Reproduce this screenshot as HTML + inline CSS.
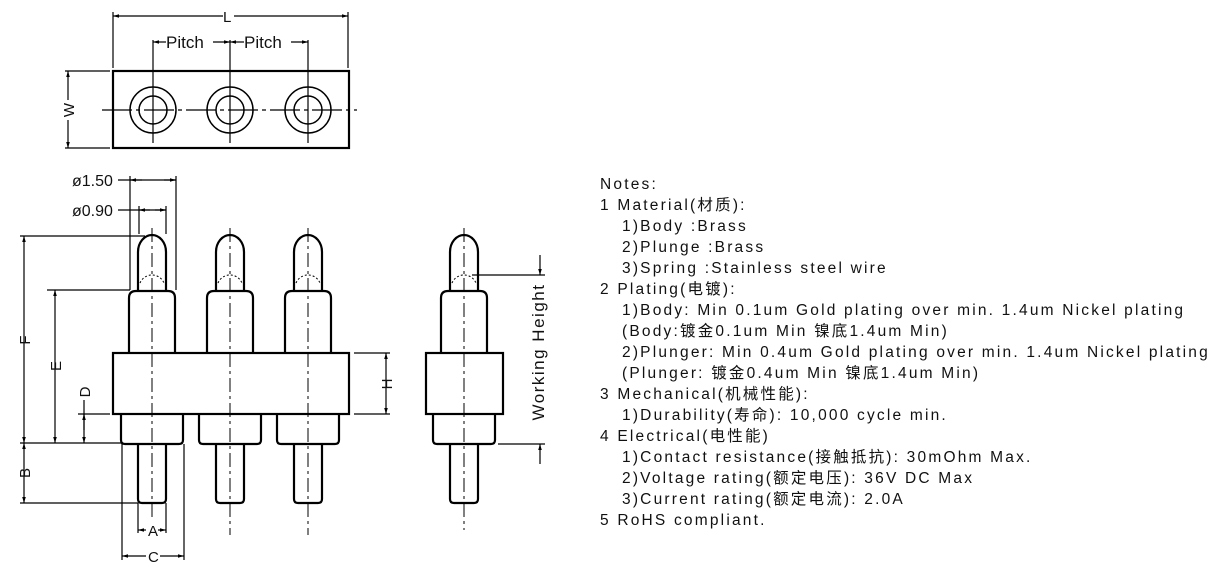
<!DOCTYPE html>
<html><head><meta charset="utf-8"><style>
body{margin:0;background:#fff;}
svg{display:block}
.t{font-family:"Liberation Sans","Noto Sans CJK SC",sans-serif;font-size:15.5px;fill:#111;letter-spacing:2.2px}
.d{font-family:"Liberation Sans",sans-serif;font-size:15px;fill:#111}
</style></head><body>
<svg width="1221" height="579" viewBox="0 0 1221 579" xmlns="http://www.w3.org/2000/svg">
<defs>
<marker id="a" viewBox="0 0 10 10" refX="10" refY="5" markerWidth="7" markerHeight="5" orient="auto-start-reverse"><path d="M0,2L10,5L0,8z" fill="#000"/></marker>
<g id="pin" fill="#fff" stroke="#000" stroke-width="2.2">
<path d="M-14,292 V252 A14,17 0 0 1 14,252 V292"/>
<path d="M-23,353 V298 Q-23,291 -16,291 H16 Q23,291 23,298 V353"/>
<path d="M-14,444 V499 Q-14,503 -10,503 H10 Q14,503 14,499 V444"/>
<path d="M-31,414 V440 Q-31,444 -27,444 H27 Q31,444 31,440 V414"/>
</g>
</defs>
<g stroke="#000" fill="none" stroke-width="1.2">
<rect x="113" y="71" width="236" height="77" stroke-width="2.2"/>
<line x1="102" y1="110" x2="357" y2="110" stroke-dasharray="30,4,4,4"/>
<g stroke-width="1.5">
<circle cx="153" cy="110" r="23"/><circle cx="153" cy="110" r="14"/>
<circle cx="230" cy="110" r="23"/><circle cx="230" cy="110" r="14"/>
<circle cx="308" cy="110" r="23"/><circle cx="308" cy="110" r="14"/>
</g>
<line x1="153" y1="40" x2="153" y2="143"/><line x1="230" y1="40" x2="230" y2="143"/><line x1="308" y1="40" x2="308" y2="143"/>
<line x1="113" y1="12" x2="113" y2="68"/><line x1="348" y1="12" x2="348" y2="68"/>
<line x1="113" y1="16" x2="223" y2="16" marker-start="url(#a)"/><line x1="234" y1="16" x2="348" y2="16" marker-end="url(#a)"/>
<line x1="153" y1="42" x2="166" y2="42" marker-start="url(#a)"/><line x1="213" y1="42" x2="230" y2="42" marker-end="url(#a)"/>
<line x1="230" y1="42" x2="244" y2="42" marker-start="url(#a)"/><line x1="291" y1="42" x2="308" y2="42" marker-end="url(#a)"/>
<line x1="65" y1="71" x2="110" y2="71"/><line x1="65" y1="148" x2="110" y2="148"/>
<line x1="68" y1="71" x2="68" y2="100" marker-start="url(#a)"/><line x1="68" y1="120" x2="68" y2="148" marker-end="url(#a)"/>
</g>
<text class="d" x="223" y="22">L</text>
<text class="d" x="166" y="48" style="font-size:17px">Pitch</text>
<text class="d" x="244" y="48" style="font-size:17px">Pitch</text>
<text class="d" transform="translate(74,110) rotate(-90)" text-anchor="middle">W</text>

<use href="#pin" x="152"/><use href="#pin" x="230"/><use href="#pin" x="308"/>
<use href="#pin" x="464"/>
<rect x="113" y="353" width="236" height="61" fill="#fff" stroke="#000" stroke-width="2.2"/>
<rect x="426" y="353" width="77" height="61" fill="#fff" stroke="#000" stroke-width="2.2"/>
<g stroke="#000" fill="none" stroke-width="1">
<path d="M140,283 A13,13 0 0 1 164,283" stroke-dasharray="2,2"/>
<path d="M218,283 A13,13 0 0 1 242,283" stroke-dasharray="2,2"/>
<path d="M296,283 A13,13 0 0 1 320,283" stroke-dasharray="2,2"/>
<path d="M452,283 A13,13 0 0 1 476,283" stroke-dasharray="2,2"/>
<g stroke-dasharray="14,4,3,4">
<line x1="152" y1="228" x2="152" y2="520"/><line x1="230" y1="228" x2="230" y2="535"/><line x1="308" y1="228" x2="308" y2="535"/><line x1="464" y1="228" x2="464" y2="530"/>
</g>
</g>
<g stroke="#000" fill="none" stroke-width="1.2">
<line x1="130" y1="176" x2="130" y2="290"/><line x1="176" y1="176" x2="176" y2="290"/>
<line x1="139" y1="206" x2="139" y2="234"/><line x1="166" y1="206" x2="166" y2="234"/>
<line x1="118" y1="180" x2="176" y2="180"/><line x1="130" y1="180" x2="142" y2="180" marker-start="url(#a)"/><line x1="164" y1="180" x2="176" y2="180" marker-end="url(#a)"/>
<line x1="118" y1="210" x2="166" y2="210"/><line x1="139" y1="210" x2="150" y2="210" marker-start="url(#a)"/><line x1="155" y1="210" x2="166" y2="210" marker-end="url(#a)"/>
<line x1="20" y1="236" x2="145" y2="236"/><line x1="47" y1="290" x2="130" y2="290"/>
<line x1="20" y1="443" x2="122" y2="443"/><line x1="20" y1="503" x2="138" y2="503"/>
<line x1="78" y1="414" x2="110" y2="414"/>
<line x1="24" y1="236" x2="24" y2="443" marker-start="url(#a)" marker-end="url(#a)"/>
<line x1="55" y1="290" x2="55" y2="443" marker-start="url(#a)" marker-end="url(#a)"/>
<line x1="84" y1="400" x2="84" y2="443" marker-end="url(#a)"/><line x1="84" y1="414" x2="84" y2="430" marker-start="url(#a)"/>
<line x1="24" y1="443" x2="24" y2="503" marker-start="url(#a)" marker-end="url(#a)"/>
<line x1="138" y1="503" x2="138" y2="533"/><line x1="166" y1="503" x2="166" y2="533"/>
<line x1="122" y1="444" x2="122" y2="560"/><line x1="184" y1="444" x2="184" y2="560"/>
<line x1="138" y1="530" x2="146" y2="530" marker-start="url(#a)"/><line x1="158" y1="530" x2="166" y2="530" marker-end="url(#a)"/>
<line x1="122" y1="556" x2="146" y2="556" marker-start="url(#a)"/><line x1="160" y1="556" x2="184" y2="556" marker-end="url(#a)"/>
<line x1="354" y1="353" x2="390" y2="353"/><line x1="354" y1="414" x2="390" y2="414"/>
<line x1="386" y1="353" x2="386" y2="414" marker-start="url(#a)" marker-end="url(#a)"/>
<line x1="472" y1="275" x2="545" y2="275"/><line x1="498" y1="444" x2="545" y2="444"/>
<line x1="540" y1="255" x2="540" y2="275" marker-end="url(#a)"/>
<line x1="540" y1="464" x2="540" y2="444" marker-end="url(#a)"/>
</g>
<text class="d" x="72" y="186" style="font-size:16px">ø1.50</text>
<text class="d" x="72" y="216" style="font-size:16px">ø0.90</text>
<text class="d" transform="translate(30,340) rotate(-90)" text-anchor="middle">F</text>
<text class="d" transform="translate(61,366) rotate(-90)" text-anchor="middle">E</text>
<text class="d" transform="translate(90,392) rotate(-90)" text-anchor="middle">D</text>
<text class="d" transform="translate(30,473) rotate(-90)" text-anchor="middle">B</text>
<text class="d" x="148" y="536">A</text>
<text class="d" x="148" y="562">C</text>
<text class="d" transform="translate(392,384) rotate(-90)" text-anchor="middle">H</text>
<text class="d" transform="translate(544,352) rotate(-90)" text-anchor="middle" style="font-size:17px;letter-spacing:1.5px">Working  Height</text>

<g class="t">
<text x="600" y="189">Notes:</text>
<text x="600" y="210">1 Material(材质):</text>
<text x="622" y="231">1)Body :Brass</text>
<text x="622" y="252">2)Plunge :Brass</text>
<text x="622" y="273">3)Spring :Stainless steel wire</text>
<text x="600" y="294">2 Plating(电镀):</text>
<text x="622" y="315" xml:space="preserve">1)Body: Min 0.1um Gold plating over min. 1.4um Nickel plating</text>
<text x="622" y="336" xml:space="preserve">(Body:镀金0.1um Min 镍底1.4um Min)</text>
<text x="622" y="357" xml:space="preserve">2)Plunger: Min 0.4um Gold plating over min. 1.4um Nickel plating</text>
<text x="622" y="378" xml:space="preserve">(Plunger: 镀金0.4um Min 镍底1.4um Min)</text>
<text x="600" y="399">3 Mechanical(机械性能):</text>
<text x="622" y="420" xml:space="preserve">1)Durability(寿命): 10,000 cycle min.</text>
<text x="600" y="441">4 Electrical(电性能)</text>
<text x="622" y="462" xml:space="preserve">1)Contact resistance(接触抵抗): 30mOhm Max.</text>
<text x="622" y="483" xml:space="preserve">2)Voltage rating(额定电压): 36V DC Max</text>
<text x="622" y="504" xml:space="preserve">3)Current rating(额定电流): 2.0A</text>
<text x="600" y="525">5 RoHS compliant.</text>
</g>
</svg>
</body></html>
